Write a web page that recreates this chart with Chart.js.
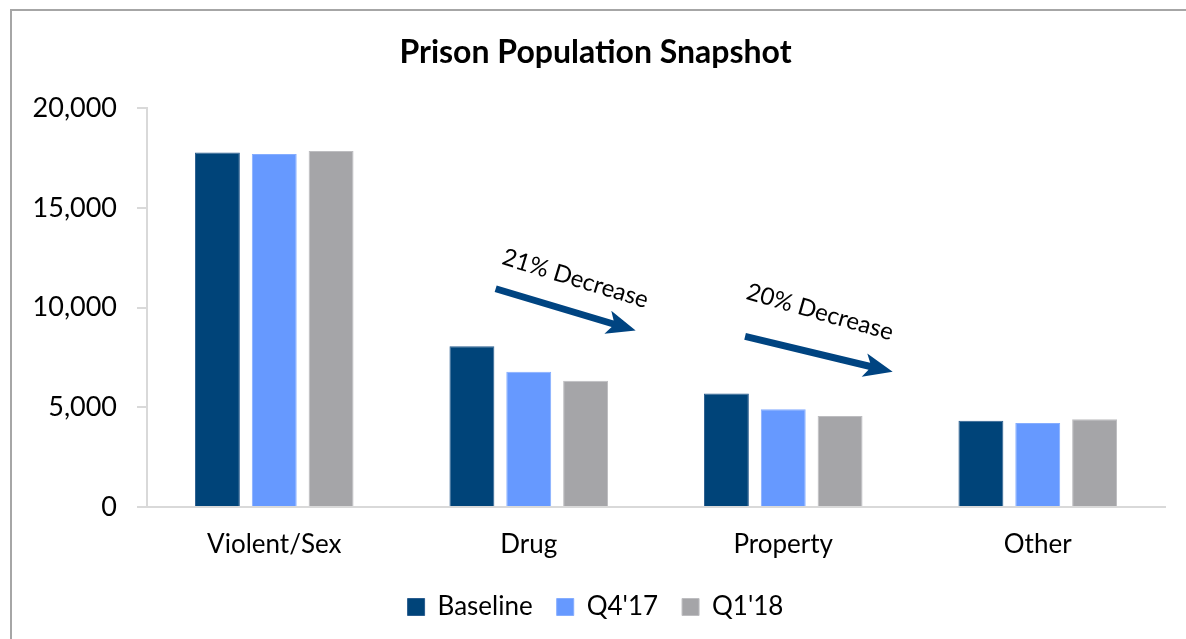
<!DOCTYPE html>
<html>
<head>
<meta charset="utf-8">
<script src="https://cdn.jsdelivr.net/npm/chart.js@4/dist/chart.umd.min.js"></script>
<style>
  html, body { margin: 0; padding: 0; background: #fff; }
  #wrap { width: 1186px; height: 639px; position: relative; }
</style>
</head>
<body>
<div id="wrap"><canvas id="prisonChart"></canvas></div>
<script>
const categories = ['Violent/Sex', 'Drug', 'Property', 'Other'];
const baseline = [17790, 8070, 5700, 4330];
const q4_17 = [17710, 6780, 4900, 4210];
const q1_18 = [17860, 6330, 4560, 4400];
const yTicks = [0, 5000, 10000, 15000, 20000];

// arrow annotations: category index + offset (in category widths), value on y axis
const arrows = [
    { text: '21% Decrease', cat: 1, from: [-0.13, 10950], to: [0.42, 8850], textAt: [-0.11, 12200], angle: 17 },
    { text: '20% Decrease', cat: 2, from: [-0.15, 8560], to: [0.43, 6780], textAt: [-0.15, 10450], angle: 16 }
];

const font = 'Lato, "Open Sans", sans-serif';

const frame = {
    id: 'frame',
    beforeDraw(chart) {
        const ctx = chart.ctx;
        ctx.save();
        ctx.fillStyle = '#fff';
        ctx.fillRect(0, 0, chart.width, chart.height);
        ctx.strokeStyle = '#a6a6a6';
        ctx.lineWidth = 2;
        ctx.strokeRect(11, 10, chart.width + 20, chart.height + 20);
        ctx.restore();
    }
};

const arrowPlugin = {
    id: 'arrowPlugin',
    afterDatasetsDraw(chart) {
        const ctx = chart.ctx;
        const x = chart.scales.x, y = chart.scales.y;
        const catW = x.getPixelForValue(1) - x.getPixelForValue(0);
        const px = (a, c) => [x.getPixelForValue(c) + a[0] * catW, y.getPixelForValue(a[1])];
        ctx.save();
        arrows.forEach(a => {
            const [x1, y1] = px(a.from, a.cat);
            const [x2, y2] = px(a.to, a.cat);
            const ang = Math.atan2(y2 - y1, x2 - x1);
            const len = Math.hypot(x2 - x1, y2 - y1);
            ctx.save();
            ctx.translate(x1, y1);
            ctx.rotate(ang);
            ctx.fillStyle = '#004481';
            ctx.beginPath();
            ctx.moveTo(0, -3.5);
            ctx.lineTo(len - 24, -3.5);
            ctx.lineTo(len - 29, -12);
            ctx.lineTo(len, 0);
            ctx.lineTo(len - 29, 12);
            ctx.lineTo(len - 24, 3.5);
            ctx.lineTo(0, 3.5);
            ctx.closePath();
            ctx.fill();
            ctx.restore();

            const [tx, ty] = px(a.textAt, a.cat);
            ctx.save();
            ctx.translate(tx, ty);
            ctx.rotate(a.angle * Math.PI / 180);
            ctx.fillStyle = '#000';
            ctx.font = '24px ' + font;
            ctx.textBaseline = 'alphabetic';
            ctx.fillText(a.text, 0, 0);
            ctx.restore();
        });
        ctx.restore();
    }
};

new Chart(document.getElementById('prisonChart'), {
    type: 'bar',
    data: {
        labels: categories,
        datasets: [
            { label: 'Baseline', data: baseline, backgroundColor: '#004479', borderColor: '#2a5d8f', borderWidth: 1 },
            { label: "Q4'17", data: q4_17, backgroundColor: '#6699ff', borderColor: '#85adff', borderWidth: 1 },
            { label: "Q1'18", data: q1_18, backgroundColor: '#a5a5a8', borderColor: '#bdbdc0', borderWidth: 1 }
        ]
    },
    options: {
        responsive: true,
        maintainAspectRatio: false,
        animation: false,
        categoryPercentage: 0.67,
        barPercentage: 0.79,
        layout: { padding: { left: 26, right: 21, top: 0, bottom: 9 } },
        plugins: {
            title: {
                display: true,
                text: 'Prison Population Snapshot',
                color: '#000',
                font: { family: font, size: 32, weight: 'bold' },
                padding: { top: 33, bottom: 37 }
            },
            legend: {
                position: 'bottom',
                labels: {
                    color: '#000',
                    font: { family: font, size: 26 },
                    boxWidth: 17,
                    boxHeight: 17,
                    padding: 24
                }
            },
            tooltip: { enabled: false }
        },
        scales: {
            x: {
                afterFit(scale) { scale.height = 63; },
                grid: { display: false },
                border: { display: true, color: '#d9d9d9', width: 2 },
                ticks: { color: '#000', font: { family: font, size: 26 }, padding: 14 }
            },
            y: {
                min: 0,
                max: 20000,
                afterBuildTicks(scale) { scale.ticks = yTicks.map(v => ({ value: v })); },
                afterFit(scale) { scale.width = 121; },
                grid: { drawOnChartArea: false, tickLength: 10, color: '#d9d9d9', lineWidth: 2 },
                border: { display: true, color: '#d9d9d9', width: 2 },
                ticks: {
                    color: '#000',
                    font: { family: font, size: 27 },
                    padding: 20,
                    callback: v => v.toLocaleString('en-US')
                }
            }
        }
    },
    plugins: [frame, arrowPlugin]
});
</script>
</body>
</html>
